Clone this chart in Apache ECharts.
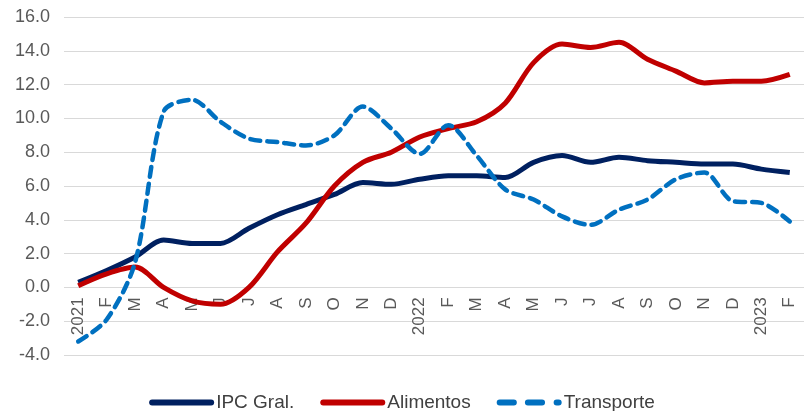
<!DOCTYPE html>
<html>
<head>
<meta charset="utf-8">
<script src="https://cdn.jsdelivr.net/npm/echarts@6/dist/echarts.min.js"></script>
<style>html,body{margin:0;padding:0;background:#fff;}#c{width:804px;height:411px;}</style>
</head>
<body>
<div id="c"></div>
<script>
const categories = ['2021','F','M','A','M','J','J','A','S','O','N','D','2022','F','M','A','M','J','J','A','S','O','N','D','2023','F'];
const ipcGral = [0.3, 1.0, 1.8, 2.8, 2.6, 2.6, 3.5, 4.3, 4.9, 5.5, 6.2, 6.1, 6.4, 6.6, 6.6, 6.5, 7.4, 7.8, 7.4, 7.7, 7.5, 7.4, 7.3, 7.3, 7.0, 6.8];
const alimentos = [0.1, 0.8, 1.2, 0.0, -0.8, -1.0, 0.0, 2.1, 3.8, 6.0, 7.4, 8.0, 8.9, 9.4, 9.8, 10.9, 13.3, 14.4, 14.2, 14.5, 13.5, 12.8, 12.1, 12.2, 12.2, 12.6];
const transporte = [-3.2, -1.9, 1.5, 10.4, 11.1, 9.8, 8.8, 8.6, 8.4, 9.0, 10.7, 9.4, 7.9, 9.6, 7.8, 5.8, 5.2, 4.2, 3.7, 4.6, 5.2, 6.4, 6.8, 5.1, 5.0, 3.9];
const yTicks = {min: -4, max: 16, interval: 2};

const font = '"Liberation Sans", Arial, sans-serif';
const gridTop = 17, gridBottom = 56, H = 411;
const plotH = H - gridTop - gridBottom;
const zeroOffset = -(0 - yTicks.min) / (yTicks.max - yTicks.min) * plotH;

const solidIcon = 'path://M3,0h59a3,3 0 0 1 0,6h-59a3,3 0 0 1 0,-6z';
const dashIcon = 'path://M3,0h14a3,3 0 0 1 0,6h-14a3,3 0 0 1 0,-6z M31,0h14a3,3 0 0 1 0,6h-14a3,3 0 0 1 0,-6z M59.5,0h2a3,3 0 0 1 0,6h-2a3,3 0 0 1 0,-6z';

const chart = echarts.init(document.getElementById('c'));
chart.setOption({
  animation: false,
  grid: {left: 64, right: -7, top: gridTop, bottom: gridBottom, containLabel: false},
  legend: {
    top: 388,
    left: 'center',
    itemWidth: 65,
    itemHeight: 6,
    itemGap: 26,
    symbolKeepAspect: false,
    textStyle: {color: '#404040', fontSize: 19, fontFamily: font, padding: [0,0,0,-3], letterSpacing: -0.3},
    data: [
      {name: 'IPC Gral.', icon: solidIcon},
      {name: 'Alimentos', icon: solidIcon},
      {name: 'Transporte', icon: dashIcon}
    ]
  },
  xAxis: {
    type: 'category',
    data: categories,
    boundaryGap: true,
    offset: zeroOffset,
    axisLine: {show: false, onZero: false},
    axisTick: {show: false},
    axisLabel: {rotate: 90, color: '#595959', fontSize: 17, fontFamily: font, margin: 10, interval: 0}
  },
  yAxis: {
    type: 'value',
    min: yTicks.min, max: yTicks.max, interval: yTicks.interval,
    axisLine: {show: false},
    axisTick: {show: false},
    splitLine: {lineStyle: {color: '#d9d9d9', width: 1}},
    axisLabel: {color: '#595959', fontSize: 18, fontFamily: font, margin: 14, formatter: v => v.toFixed(1)}
  },
  series: [
    {name: 'IPC Gral.', type: 'line', data: ipcGral, symbol: 'none', smooth: 0.3,
     lineStyle: {color: '#002060', width: 5}, itemStyle: {color: '#002060'}},
    {name: 'Alimentos', type: 'line', data: alimentos, symbol: 'none', smooth: 0.3,
     lineStyle: {color: '#C00000', width: 5}, itemStyle: {color: '#C00000'}},
    {name: 'Transporte', type: 'line', data: transporte, symbol: 'none', smooth: 0.3,
     lineStyle: {color: '#0070C0', width: 4.5, type: [10, 7], cap: 'round'}, itemStyle: {color: '#0070C0'}}
  ]
});
</script>
</body>
</html>
